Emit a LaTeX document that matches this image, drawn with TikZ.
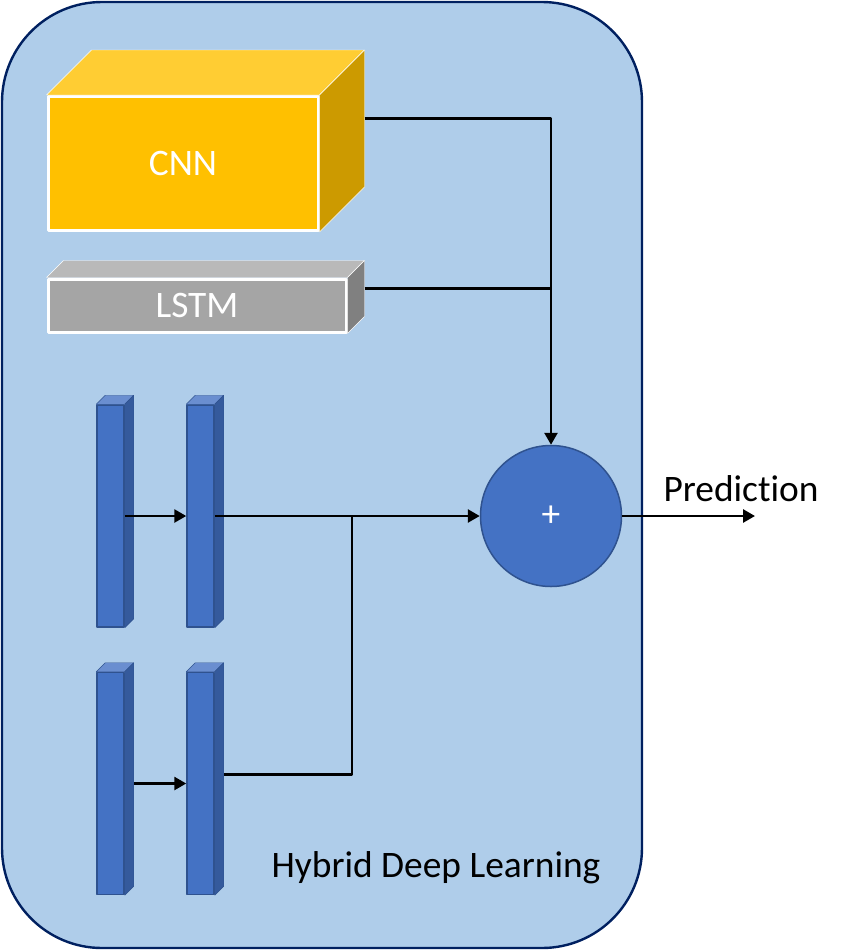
\documentclass[tikz,border=0pt]{standalone}
\usepackage{fontspec}
\setmainfont{Carlito}[Ligatures=NoCommon]
\usetikzlibrary{arrows.meta}
\definecolor{panel}{RGB}{175,205,234}
\definecolor{navy}{RGB}{0,32,96}
\definecolor{accblue}{RGB}{68,114,196}
\definecolor{accblueedge}{RGB}{47,82,143}
\definecolor{accbluetop}{RGB}{106,142,208}
\definecolor{accblueside}{RGB}{53,90,156}
\definecolor{gold}{RGB}{255,192,0}
\definecolor{goldtop}{RGB}{255,205,51}
\definecolor{goldside}{RGB}{204,154,0}
\definecolor{grayfront}{RGB}{165,165,165}
\definecolor{graytop}{RGB}{185,185,185}
\definecolor{grayside}{RGB}{128,128,128}
% top and side faces of a box: node, depth, top colour, side colour, edge colour
\newcommand\prismfaces[5]{%
  \draw[fill=#3,draw=#5] (#1.north west)--([shift={(#2,-#2)}]#1.north west)--([shift={(#2,-#2)}]#1.north east)--(#1.north east)--cycle;
  \draw[fill=#4,draw=#5] (#1.north east)--([shift={(#2,-#2)}]#1.north east)--([shift={(#2,-#2)}]#1.south east)--(#1.south east)--cycle;}
\begin{document}
\begin{tikzpicture}[x=1pt,y=-1pt,line join=round,font=\fontsize{37.4}{40}\selectfont,
	conn/.style={line width=2.7pt},
	tip/.style={-{Triangle[length=12pt,width=13pt]}},
	bigbox/.style={draw=white,line width=3pt,inner sep=0pt,text=white},
	bar/.style={draw=accblueedge,fill=accblue,line width=1.5pt,minimum width=27pt,minimum height=222pt,inner sep=0pt}]
	\useasboundingbox (0,0) rectangle (842,951);
	\draw[fill=panel,draw=navy,line width=2.4pt,rounded corners=100pt] (2,2) rectangle (642,948);
	% CNN and LSTM blocks
	\node[bigbox,fill=gold,minimum width=270pt,minimum height=134pt] (cnn) at (183,163.5) {CNN};
	\prismfaces{cnn}{45}{goldtop}{goldside}{white}
	\node[bigbox,fill=grayfront,minimum width=298pt,minimum height=53pt] (lstm) at (197,305.5) {LSTM};
	\prismfaces{lstm}{17}{graytop}{grayside}{white}
	% dense layers
	\foreach \n/\x/\y in {a1/110.5/516,a2/200.5/516,b1/110.5/783.5,b2/200.5/783.5}{
		\node[bar] (\n) at (\x,\y) {};
		\prismfaces{\n}{9}{accbluetop}{accblueside}{accblueedge}
	}
	\node[circle,draw=accblueedge,fill=accblue,line width=1.5pt,minimum size=141pt,inner sep=0pt,text=white] (sum) at (551,516) {+};
	\coordinate (cnnout) at ([shift={(45,-45)}]cnn.east);
	\coordinate (lstmout) at ([shift={(17,-17)}]lstm.east);
	\coordinate (bout) at ([shift={(9,-9)}]b2.east);
	\coordinate (merge) at (352,516);
	\coordinate (out) at (755,516);
	% connectors
	\draw[conn,tip] (cnnout)-|(sum.north);
	\draw[conn] (lstmout)--(lstmout-|sum.north);
	\draw[conn,tip] (a1.east)--(a2.west);
	\draw[conn,tip] ([xshift=9pt]b1.east)--(b2.west);
	\draw[conn,tip] (a2.east)--(sum.west);
	\draw[conn] (bout)-|(merge);
	\draw[conn,tip] (sum.east)--(out);
	\node (pred) at (741,489) {Prediction};
	\node (title) at (436,868) {Hybrid Deep Learning};
\end{tikzpicture}
\end{document}
